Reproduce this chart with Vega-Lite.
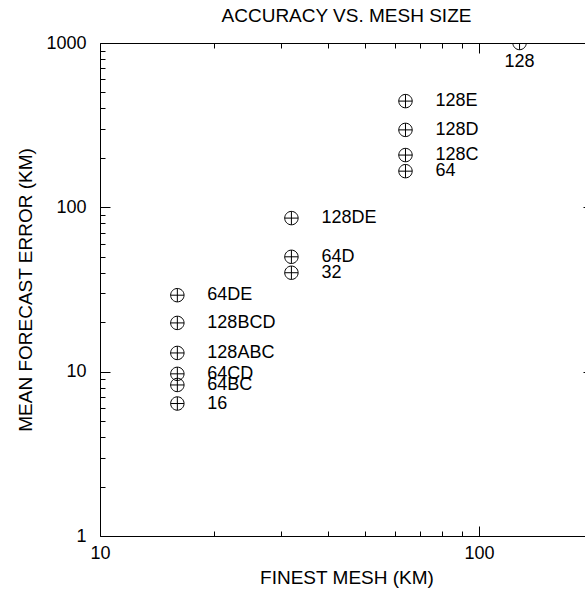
{
  "$schema": "https://vega.github.io/schema/vega-lite/v6.json",
  "width": 493,
  "height": 493,
  "autosize": {"type": "none"},
  "padding": {"left": 100, "top": 43, "right": -8, "bottom": 58},
  "background": "white",
  "config": {
    "view": {"stroke": null},
    "font": "Liberation Sans",
    "axis": {
      "domainColor": "black", "domainWidth": 1, "tickColor": "black", "tickWidth": 1,
      "labelFont": "Liberation Sans", "labelFontSize": 18, "labelColor": "black",
      "titleFont": "Liberation Sans", "titleFontSize": 19, "titleFontWeight": "normal", "titleColor": "black",
      "grid": false, "labelOverlap": false, "labelFlush": false, "labelBound": false
    }
  },
  "title": {"text": "ACCURACY VS. MESH SIZE", "fontSize": 19, "fontWeight": "normal", "font": "Liberation Sans", "color": "black", "offset": 8},
  "data": {"values": [
    {"mesh": 128, "error": 1000, "label": "128"},
    {"mesh": 64, "error": 443, "label": "128E"},
    {"mesh": 64, "error": 296, "label": "128D"},
    {"mesh": 64, "error": 208, "label": "128C"},
    {"mesh": 64, "error": 166, "label": "64"},
    {"mesh": 32, "error": 86, "label": "128DE"},
    {"mesh": 32, "error": 50, "label": "64D"},
    {"mesh": 32, "error": 40, "label": "32"},
    {"mesh": 16, "error": 29.2, "label": "64DE"},
    {"mesh": 16, "error": 19.8, "label": "128BCD"},
    {"mesh": 16, "error": 13.0, "label": "128ABC"},
    {"mesh": 16, "error": 9.7, "label": "64CD"},
    {"mesh": 16, "error": 8.3, "label": "64BC"},
    {"mesh": 16, "error": 6.4, "label": "16"}
  ]},
  "layer": [
    {
      "mark": {"type": "point", "shape": "M -1 0 A 1 1 0 1 0 1 0 A 1 1 0 1 0 -1 0 Z M -1 0 L 1 0 M 0 -1 L 0 1", "size": 180, "filled": false, "color": "black", "strokeWidth": 1, "opacity": 1, "clip": true},
      "encoding": {
        "x": {"field": "mesh", "type": "quantitative", "scale": {"type": "log", "domain": [10, 200], "nice": false},
          "axis": {"orient": "bottom", "title": "FINEST MESH (KM)", "values": [10, 20, 30, 40, 50, 60, 70, 80, 90, 100, 200],
            "labelExpr": "datum.value == 10 ? '10' : datum.value == 100 ? '100' : ''",
            "tickSize": {"condition": {"test": "datum.value == 10 || datum.value == 100", "value": -10}, "value": -5},
            "labelPadding": 18, "titlePadding": 1}},
        "y": {"field": "error", "type": "quantitative", "scale": {"type": "log", "domain": [1, 1000], "nice": false},
          "axis": {"orient": "left", "title": "MEAN FORECAST ERROR (KM)",
            "values": [1, 2, 3, 4, 5, 6, 7, 8, 9, 10, 20, 30, 40, 50, 60, 70, 80, 90, 100, 200, 300, 400, 500, 600, 700, 800, 900, 1000],
            "labelExpr": "datum.value == 1 ? '1' : datum.value == 10 ? '10' : datum.value == 100 ? '100' : datum.value == 1000 ? '1000' : ''",
            "tickSize": {"condition": {"test": "datum.value == 1 || datum.value == 10 || datum.value == 100 || datum.value == 1000", "value": -10}, "value": -5},
            "labelPadding": 24, "titlePadding": 10}}
      }
    },
    {
      "transform": [{"filter": "datum.label != '128'"}],
      "mark": {"type": "text", "align": "left", "baseline": "middle", "dx": 30, "font": "Liberation Sans", "fontSize": 18, "color": "black"},
      "encoding": {
        "x": {"field": "mesh", "type": "quantitative", "axis": null},
        "y": {"field": "error", "type": "quantitative", "axis": null},
        "text": {"field": "label"}
      }
    },
    {
      "transform": [{"filter": "datum.label == '128'"}],
      "mark": {"type": "text", "align": "center", "baseline": "middle", "dy": 19, "font": "Liberation Sans", "fontSize": 18, "color": "black"},
      "encoding": {
        "x": {"field": "mesh", "type": "quantitative", "axis": null},
        "y": {"field": "error", "type": "quantitative", "axis": null},
        "text": {"field": "label"}
      }
    },
    {
      "mark": {"type": "point", "opacity": 0},
      "encoding": {
        "x": {"field": "mesh", "type": "quantitative",
          "axis": {"orient": "top", "title": null, "labels": false, "values": [10, 20, 30, 40, 50, 60, 70, 80, 90, 100, 200],
            "tickSize": {"condition": {"test": "datum.value == 10 || datum.value == 100", "value": -10}, "value": -5}}},
        "y": {"field": "error", "type": "quantitative",
          "axis": {"orient": "right", "title": null, "labels": false,
            "values": [1, 2, 3, 4, 5, 6, 7, 8, 9, 10, 20, 30, 40, 50, 60, 70, 80, 90, 100, 200, 300, 400, 500, 600, 700, 800, 900, 1000],
            "tickSize": {"condition": {"test": "datum.value == 1 || datum.value == 10 || datum.value == 100 || datum.value == 1000", "value": -10}, "value": -5}}}
      }
    }
  ],
  "resolve": {"axis": {"x": "independent", "y": "independent"}}
}
